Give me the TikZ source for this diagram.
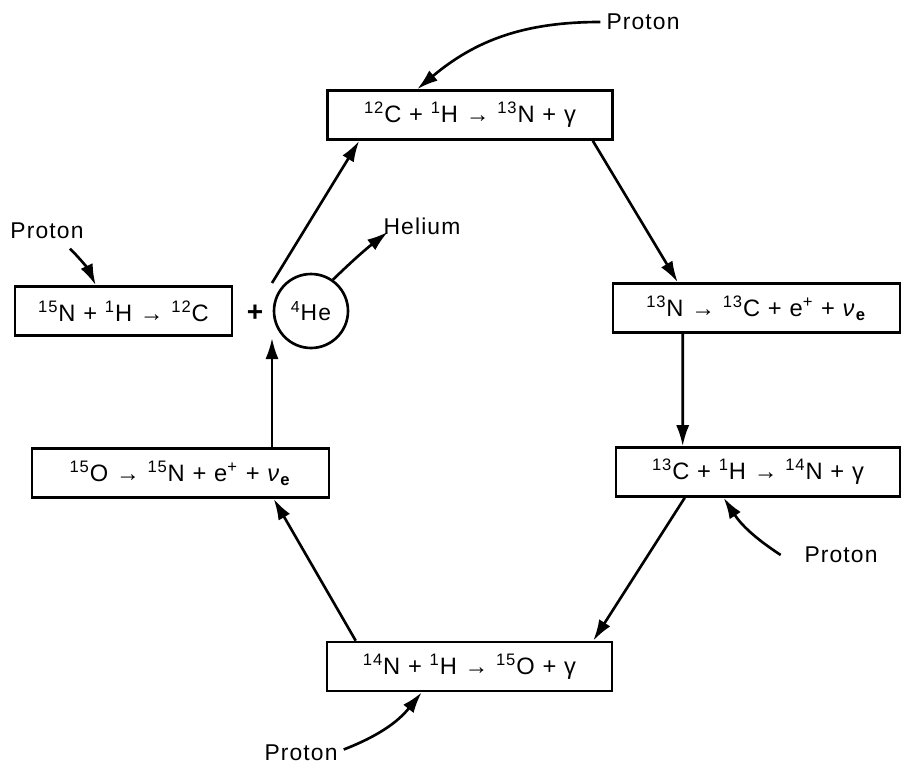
\documentclass[tikz,border=0pt]{standalone}
\usepackage{fontspec}
\setmainfont[LetterSpace=5]{Liberation Sans}
\usetikzlibrary{arrows.meta, positioning}

\newcommand{\iso}[2]{\textsuperscript{#1}#2}
\newcommand{\nue}{\textit{ν}\textsubscript{\textbf{e}}}

\begin{document}
\begin{tikzpicture}[x=0.02cm, y=-0.02cm,
    rxn/.style={draw, line width=1.5pt, minimum height=0.98cm, inner sep=2pt, font=\fontsize{13.5}{15}\selectfont},
    lbl/.style={font=\fontsize{13}{15}\selectfont},
    flow/.style={line width=1.5pt, -{Latex[length=12pt, width=7.5pt]}}]
    \useasboundingbox (0,0) rectangle (901,763);

    % the six reactions of the cycle
    \node[rxn, minimum width=5.7cm] (cn) at (470,115) {\iso{12}{C} + \iso{1}{H} → \iso{13}{N} + γ};
    \node[rxn, minimum width=5.74cm] (nc) at (756.5,308) {\iso{13}{N} → \iso{13}{C} + e\textsuperscript{+} + \nue};
    \node[rxn, minimum width=5.68cm] (cnn) at (758,472) {\iso{13}{C} + \iso{1}{H} → \iso{14}{N} + γ};
    \node[rxn, minimum width=5.7cm] (no) at (469.5,666.5) {\iso{14}{N} + \iso{1}{H} → \iso{15}{O} + γ};
    \node[rxn, minimum width=5.94cm] (on) at (180.5,473) {\iso{15}{O} → \iso{15}{N} + e\textsuperscript{+} + \nue};
    \node[rxn, minimum width=4.34cm] (nhe) at (123.5,311) {\iso{15}{N} + \iso{1}{H} → \iso{12}{C}};

    \node[font=\fontsize{16}{18}\selectfont\bfseries] (plus) at (255,313) {+};
    \node[draw, circle, line width=1.5pt, minimum size=1.48cm, inner sep=0pt, lbl] (he) at (311,311) {\iso{4}{He}};
    \coordinate (hubout) at (272,283);
    \coordinate (hubin) at (272,338);

    \node[lbl] (helium) at (422,226) {Helium};
    \node[lbl] (pA) at (643,22) {Proton};
    \node[lbl] (pF) at (47,231) {Proton};
    \node[lbl] (pC) at (841,555) {Proton};
    \node[lbl] (pD) at (301,753) {Proton};

    % the cycle
    \draw[flow] (hubout) -- ([xshift=0.66cm]cn.south west);
    \draw[flow] ([xshift=-0.42cm]cn.south east) -- ([xshift=1.32cm]nc.north west);
    \draw[flow] ([xshift=1.42cm]nc.south west) -- ([xshift=1.36cm]cnn.north west);
    \draw[flow] ([xshift=1.4cm]cnn.south west) -- ([xshift=-0.4cm]no.north east);
    \draw[flow] ([xshift=0.6cm]no.north west) -- ([xshift=4.86cm]on.south west);
    \draw[flow] (on.north -| hubin) -- (hubin);

    % protons in, helium out
    \draw[flow] (he.55) to[bend left=3] ([xshift=6pt, yshift=5pt]helium.south west);
    \draw[flow] (pA.west) to[out=180, in=40] ([xshift=1.82cm]cn.north west);
    \draw[flow] ([xshift=0.46cm, yshift=-2pt]pF.south) to[bend left=10] ([xshift=1.64cm]nhe.north west);
    \draw[flow] ([xshift=-10pt]pC.west) to[bend left=12] ([xshift=2.18cm]cnn.south west);
    \draw[flow] ([yshift=2pt]pD.east) to[bend right=15] ([xshift=1.92cm]no.south west);
\end{tikzpicture}
\end{document}
